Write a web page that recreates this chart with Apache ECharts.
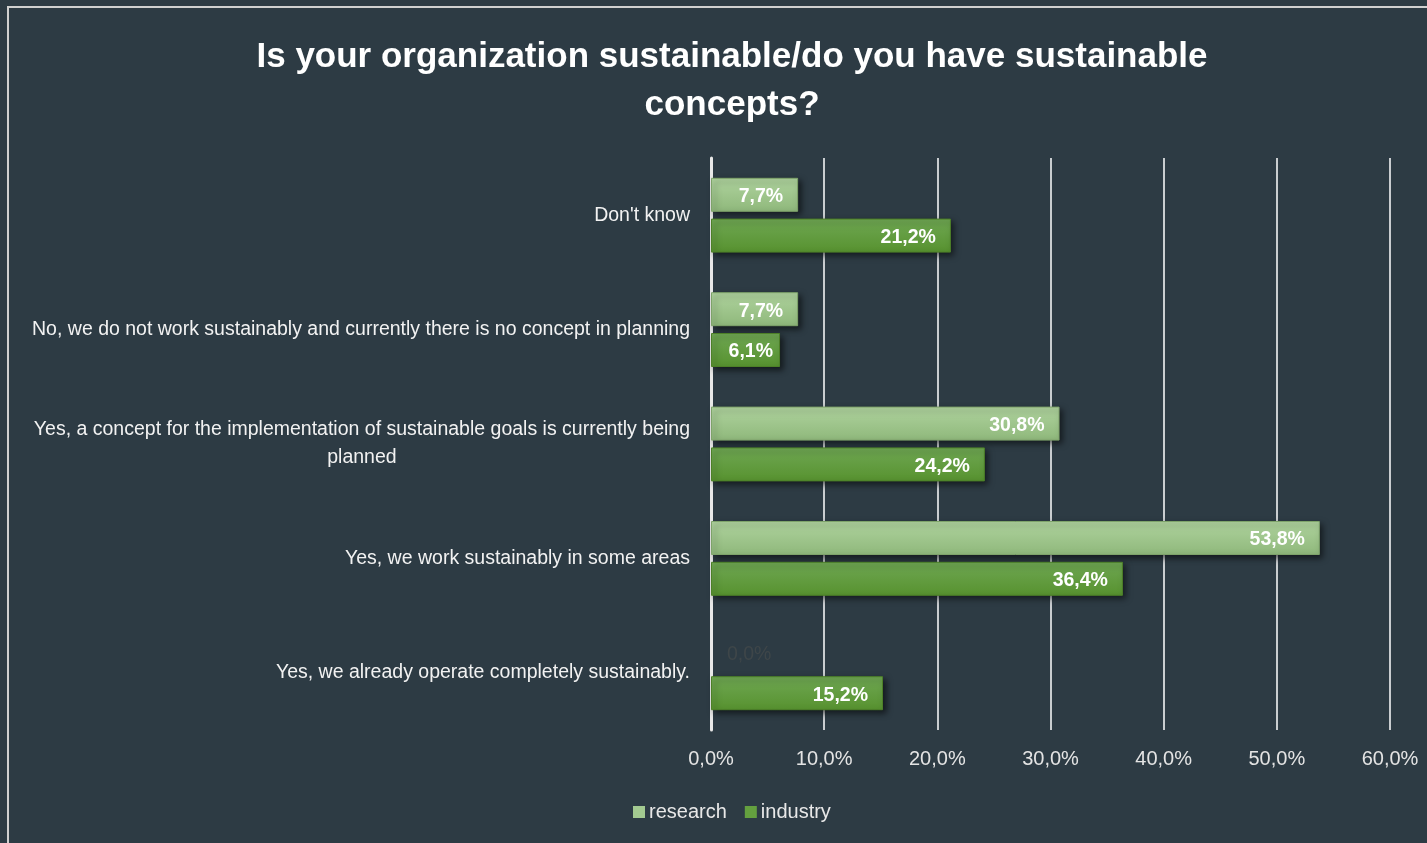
<!DOCTYPE html>
<html><head><meta charset="utf-8">
<script src="https://cdn.jsdelivr.net/npm/echarts@6/dist/echarts.min.js"></script>
<style>html,body{margin:0;padding:0;background:#2d3b44;}#c{width:1427px;height:843px;}</style>
</head><body><div id="c"></div>
<script>
var categories = [
  "Don't know",
  "No, we do not work sustainably and currently there is no concept in planning",
  "Yes, a concept for the implementation of sustainable goals is currently being\nplanned",
  "Yes, we work sustainably in some areas",
  "Yes, we already operate completely sustainably."
];
var research = [7.7, 7.7, 30.8, 53.8, 0.0];
var industry = [21.2, 6.1, 24.2, 36.4, 15.2];
var xTicks = [0, 10, 20, 30, 40, 50, 60];

var FONT = '"Liberation Sans Narrow", "Arial Narrow", "Liberation Sans", sans-serif';
function pct(v){ return v.toFixed(1).replace('.', ',') + '%'; }

function barData(arr){
  return arr.map(function(v){
    if (v === 0) {
      return {value: v,
        itemStyle: {color: 'rgba(0,0,0,0)', borderWidth: 0, shadowBlur: 0, shadowOffsetX: 0, shadowOffsetY: 0, shadowColor: 'rgba(0,0,0,0)'},
        label: {position: 'right', color: '#3e4649', fontWeight: 'normal', distance: 16}};
    }
    if (v < 7) {
      return {value: v, label: {distance: 7}};
    }
    return v;
  });
}

var chart = echarts.init(document.getElementById('c'));
chart.setOption({
  backgroundColor: '#2d3b44',
  animation: false,
  title: {
    text: 'Is your organization sustainable/do you have sustainable\nconcepts?',
    left: 727, top: 28, textAlign: 'center',
    textStyle: {color: '#ffffff', fontFamily: FONT, fontWeight: 'bold', fontSize: 35, lineHeight: 48}
  },
  graphic: [{
    type: 'rect', silent: true, z: -1,
    shape: {x: 8, y: 7, width: 1440, height: 900},
    style: {fill: 'none', stroke: '#d0d0d0', lineWidth: 2}
  }],
  legend: {
    bottom: 16, left: 628,
    itemWidth: 12, itemHeight: 12, itemGap: 18,
    icon: 'rect',
    textStyle: {color: '#e8e8e8', fontFamily: FONT, fontSize: 20, padding: [0,0,0,-1]},
    data: [
      {name: 'research', itemStyle: {color: '#a3ca91', borderWidth: 0, shadowBlur: 0}},
      {name: 'industry', itemStyle: {color: '#64a03f', borderWidth: 0, shadowBlur: 0}}
    ]
  },
  grid: {left: 711, right: 37, top: 158, bottom: 113, containLabel: false},
  xAxis: {
    type: 'value', min: 0, max: 60, interval: 10,
    axisLine: {show: false}, axisTick: {show: false},
    splitLine: {lineStyle: {color: '#c9cdd0', width: 2}},
    axisLabel: {color: '#e4e4e4', fontFamily: FONT, fontSize: 20, margin: 19,
      formatter: function(v){ return pct(v); }}
  },
  yAxis: {
    type: 'category', inverse: true, data: categories,
    axisLine: {show: true, lineStyle: {color: '#e8e8e8', width: 3}},
    axisTick: {show: false},
    axisLabel: {
      color: '#f2f2f2', fontFamily: FONT, fontSize: 20, margin: 21,
      formatter: function(v){ return v.split('\n').map(function(l){ return '{a|' + l + '}'; }).join('\n'); },
      rich: {a: {align: 'center', fontFamily: FONT, fontSize: 19.5, color: '#f2f2f2', lineHeight: 28}}
    }
  },
  series: [{
    name: 'research', type: 'bar', data: barData(research),
    barWidth: 34, barGap: '20%', barCategoryGap: '34%',
    itemStyle: {
      color: new echarts.graphic.LinearGradient(0,0,0,1,[{offset:0,color:'#afd39e'},{offset:1,color:'#8fb87b'}]),
      borderColor: '#7ea36a', borderWidth: 1,
      shadowColor: 'rgba(0,0,0,0.55)', shadowBlur: 6, shadowOffsetX: 3, shadowOffsetY: 3
    },
    label: {show: true, position: 'insideRight', distance: 15, offset: [0, 2], color: '#ffffff', fontFamily: FONT,
      fontWeight: 'bold', fontSize: 19.5, formatter: function(p){ return pct(p.value); }}
  }, {
    name: 'industry', type: 'bar', data: barData(industry),
    barWidth: 34, barGap: '20%',
    itemStyle: {
      color: new echarts.graphic.LinearGradient(0,0,0,1,[{offset:0,color:'#6fa753'},{offset:1,color:'#57922f'}]),
      borderColor: '#4d8028', borderWidth: 1,
      shadowColor: 'rgba(0,0,0,0.55)', shadowBlur: 6, shadowOffsetX: 3, shadowOffsetY: 3
    },
    label: {show: true, position: 'insideRight', distance: 15, offset: [0, 2], color: '#ffffff', fontFamily: FONT,
      fontWeight: 'bold', fontSize: 19.5, formatter: function(p){ return pct(p.value); }}
  }]
});
</script></body></html>
